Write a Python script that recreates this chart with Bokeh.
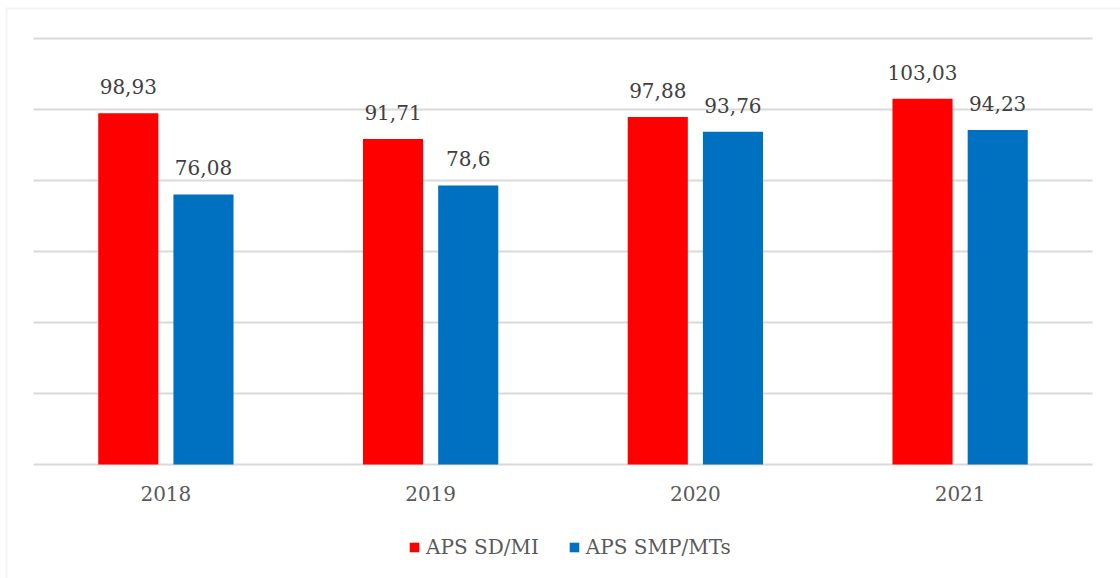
from bokeh.plotting import figure
from bokeh.models import (ColumnDataSource, FactorRange, Legend, LegendItem, Range1d,
                          FixedTicker, LabelSet, BoxAnnotation)
from bokeh.transform import dodge
from bokeh.core.properties import value
from bokeh.embed import file_html
from bokeh.resources import INLINE

years = ["2018", "2019", "2020", "2021"]
sd_mi = [98.93, 91.71, 97.88, 103.03]
smp_mts = [76.08, 78.6, 93.76, 94.23]
sd_mi_labels = ["98,93", "91,71", "97,88", "103,03"]
smp_mts_labels = ["76,08", "78,6", "93,76", "94,23"]
grid_values = [0, 20, 40, 60, 80, 100, 120]
series_names = ["APS SD/MI", "APS SMP/MTs"]
series_colors = ["#FF0000", "#0070C0"]

src = ColumnDataSource(dict(years=years, sd=sd_mi, smp=smp_mts,
                            sdl=sd_mi_labels, smpl=smp_mts_labels,
                            base=[0] * len(years)))

FONT = "DejaVu Serif"
GRID = "#d9d9d9"

xr = FactorRange(factors=years)
xr.range_padding = 0.1058
xr.range_padding_units = "absolute"
p = figure(x_range=xr, y_range=Range1d(-32.11, 128.73),
           width=1120, height=578, output_backend="svg", toolbar_location=None,
           min_border_left=5, min_border_right=0, min_border_top=7, min_border_bottom=0)
p.outline_line_color = None
p.xaxis.visible = False
p.yaxis.visible = False

# chart border (left/top visible, as in the reference)
p.add_layout(BoxAnnotation(right=100, bottom=-1000, fill_alpha=0,
                           line_color=GRID, line_width=4, level="underlay"))

# horizontal gridlines, spanning the category area only
g = p.ygrid[0]
g.ticker = FixedTicker(ticks=grid_values)
g.grid_line_color = GRID
g.grid_line_width = 2
p.xgrid.grid_line_color = None
if "cross_bounds" in g.properties():
    g.cross_bounds = (0, len(years))
else:
    g.grid_line_color = None
    gsrc = ColumnDataSource(dict(first=[years[0]] * len(grid_values),
                                 last=[years[-1]] * len(grid_values),
                                 yv=grid_values))
    p.segment(x0=dodge("first", -0.5, range=xr), x1=dodge("last", 0.5, range=xr),
              y0="yv", y1="yv", source=gsrc, line_color=GRID, line_width=2, level="underlay")

r1 = p.vbar(x=dodge("years", -0.142, range=xr), top="sd", width=0.227, source=src,
            fill_color=series_colors[0], line_color=None)
r2 = p.vbar(x=dodge("years", 0.142, range=xr), top="smp", width=0.227, source=src,
            fill_color=series_colors[1], line_color=None)

p.add_layout(LabelSet(x=dodge("years", -0.142, range=xr), y="sd", text="sdl", source=src,
                      text_align="center", text_baseline="bottom", y_offset=19,
                      text_font=value(FONT), text_font_size=value("20px"), text_color="#404040"))
p.add_layout(LabelSet(x=dodge("years", 0.142, range=xr), y="smp", text="smpl", source=src,
                      text_align="center", text_baseline="bottom", y_offset=19,
                      text_font=value(FONT), text_font_size=value("20px"), text_color="#404040"))

# category (x tick) labels
p.add_layout(LabelSet(x="years", y="base", text="years", source=src,
                      text_align="center", text_baseline="middle", y_offset=-29,
                      text_font=value(FONT), text_font_size=value("20px"), text_color="#595959"))

legend = Legend(items=[LegendItem(label=series_names[0], renderers=[r1]),
                       LegendItem(label=series_names[1], renderers=[r2])],
                orientation="horizontal", location=(403, 19), padding=0,
                label_text_font=FONT, label_text_font_size="20px", label_text_color="#595959",
                glyph_width=12, glyph_height=12, spacing=29, label_standoff=6,
                border_line_color=None, background_fill_alpha=0)
p.add_layout(legend)

open("out.html", "w").write(file_html(p, INLINE))
